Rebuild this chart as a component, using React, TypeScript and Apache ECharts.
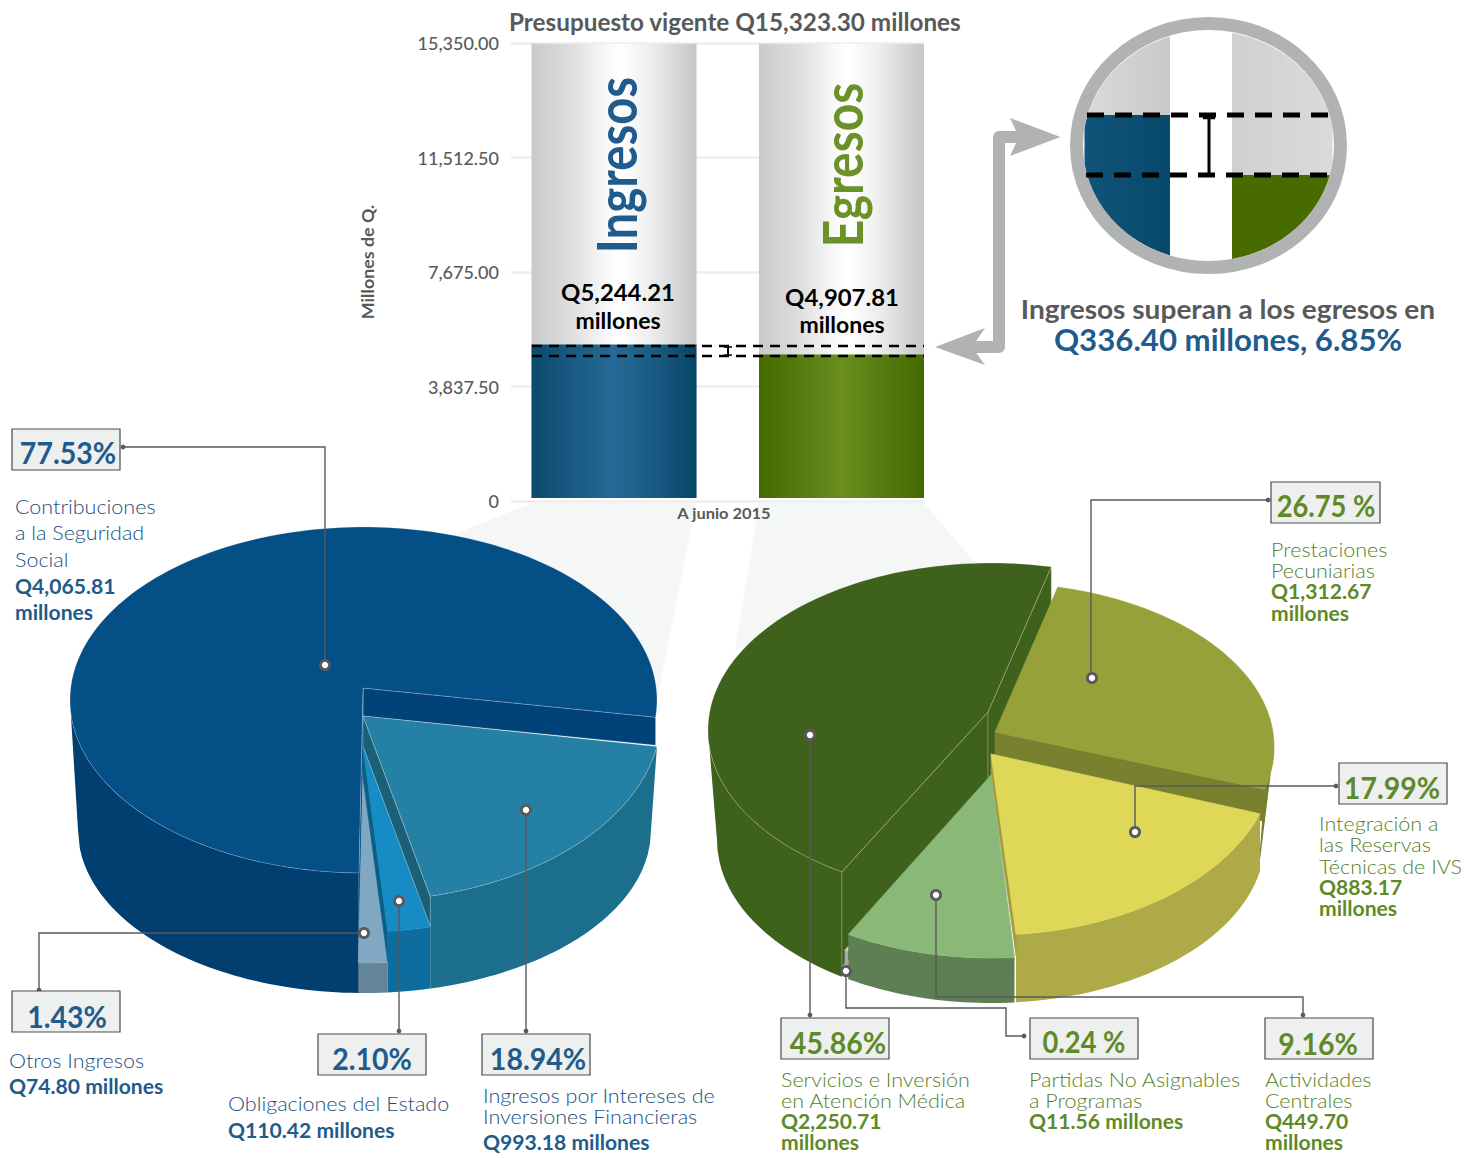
import React, { useEffect, useRef } from "react";
import * as echarts from "echarts";

const barCategories = ["Ingresos", "Egresos"];
const budgetValues = [15323.3, 15323.3];
const executedValues = [5244.21, 4907.81];
const incomeCategories = ["Ingresos por Intereses de Inversiones Financieras", "Obligaciones del Estado", "Otros Ingresos", "Contribuciones a la Seguridad Social"];
const incomeValues = [993.18, 110.42, 74.8, 4065.81];
const expenseCategories = ["Prestaciones Pecuniarias", "Integración a las Reservas Técnicas de IVS", "Actividades Centrales", "Partidas No Asignables a Programas", "Servicios e Inversión en Atención Médica"];
const expenseValues = [1312.67, 883.17, 449.7, 11.56, 2250.71];

const FONT = "Lato";
const BLUE = "#1f5b8c";
const BLUE_L = "#174f80";
const GREEN = "#5f8a28";
const GREEN_L = "#55801f";
const GREY = "#58595b";
const rad = (d: number) => (d * Math.PI) / 180;

type Strip = { at: "start" | "end"; depth: number; fill: string };
type Slice = {
  apex: number[]; c: number[]; r: number[]; b: number[]; nudge: number[];
  top: string; wall: string; strips?: Strip[]; line?: boolean;
};

const leftLayout: Record<string, Slice> = {
  [incomeCategories[0]]: { apex: [363, 716], c: [363, 714], r: [298.5, 187], b: [363, 830, 288, 163], nudge: [0, -1.2], top: "#2580a5", wall: "#1c6e8d", strips: [{ at: "end", depth: 30, fill: "#1a6078" }], line: true },
  [incomeCategories[1]]: { apex: [363, 747], c: [363, 732], r: [298.5, 200], b: [363, 830, 288, 163], nudge: [-1.2, -0.5], top: "#168bc4", wall: "#0d6d9e", strips: [{ at: "end", depth: 30, fill: "#0b5f87" }] },
  [incomeCategories[2]]: { apex: [363, 773], c: [363, 773], r: [298.5, 190], b: [363, 830, 288, 163], nudge: [-0.5, 0], top: "#81a8c2", wall: "#648499" },
  [incomeCategories[3]]: { apex: [363, 688], c: [363.5, 700], r: [293.5, 173], b: [363, 830, 285, 163], nudge: [0, -4.3], top: "#034f86", wall: "#003f6f", strips: [{ at: "end", depth: 28, fill: "#014378" }, { at: "start", depth: 90, fill: "#014378" }], line: true },
};
const rightLayout: Record<string, Slice> = {
  [expenseCategories[0]]: { apex: [995, 732], c: [995, 747], r: [279, 164], b: [991, 876, 267, 0], nudge: [0, -4.3], top: "#97a13a", wall: "#78802a", strips: [{ at: "end", depth: 32, fill: "#79812f" }] },
  [expenseCategories[1]]: { apex: [991, 754], c: [991, 754], r: [285, 181], b: [991, 840, 274, 163], nudge: [0, 0.9], top: "#ded757", wall: "#aeaa47", strips: [{ at: "end", depth: 21, fill: "#a19c40" }] },
  [expenseCategories[2]]: { apex: [991, 775], c: [991, 783], r: [285, 175], b: [991, 840, 274, 163], nudge: [1.2, 3], top: "#8ab878", wall: "#5d7f53" },
  [expenseCategories[3]]: { apex: [991, 800], c: [991, 800], r: [285, 175], b: [991, 829, 274, 163], nudge: [3, 3], top: "#c9d0c4", wall: "#a8a8a8" },
  [expenseCategories[4]]: { apex: [988, 712], c: [991, 730], r: [283, 167], b: [991, 840, 274, 163], nudge: [3.9, -0.7], top: "#3e611c", wall: "#3e611c", strips: [{ at: "start", depth: 95, fill: "#3e611c" }, { at: "end", depth: 70, fill: "#3e611c" }], line: true },
};

function arc(c: number[], r: number[], a0: number, a1: number) {
  const n = Math.max(2, Math.ceil(Math.abs(a1 - a0) / 1.5));
  const pts: number[][] = [];
  for (let i = 0; i <= n; i++) {
    const t = rad(a0 + ((a1 - a0) * i) / n);
    pts.push([c[0] + r[0] * Math.cos(t), c[1] + r[1] * Math.sin(t)]);
  }
  return pts;
}

function sliceShapes(s: Slice, a0: number, a1: number) {
  const out: any[] = [];
  const thin = "rgba(255,255,255,0.32)";
  const v0 = Math.max(a0, 0);
  const v1 = Math.min(a1, 180);
  if (v1 > v0) {
    const topPts = arc(s.c, s.r, v0, v1);
    const bottom = topPts.map(([x]) => {
      const xb = Math.max(s.b[0] - s.b[2], Math.min(s.b[0] + s.b[2], x));
      const u = (xb - s.b[0]) / s.b[2];
      return [xb, s.b[1] + s.b[3] * Math.sqrt(Math.max(0, 1 - u * u))];
    });
    out.push({ type: "polygon", shape: { points: topPts.concat(bottom.reverse()) }, style: { fill: s.wall } });
  }
  (s.strips || []).forEach((st) => {
    const ang = st.at === "start" ? a0 : a1;
    const p = arc(s.c, s.r, ang, ang)[0];
    out.push({
      type: "polygon",
      shape: { points: [s.apex, p, [p[0], p[1] + st.depth], [s.apex[0], s.apex[1] + st.depth]] },
      style: { fill: st.fill, stroke: s.line ? thin : st.fill, lineWidth: 0.7 },
    });
  });
  out.push({
    type: "polygon",
    shape: { points: [s.apex, ...arc(s.c, s.r, a0, a1)] },
    style: { fill: s.top, stroke: s.line ? thin : s.top, lineWidth: 0.7 },
  });
  return out;
}

function pieSeries(name: string, cats: string[], vals: number[], layout: Record<string, Slice>, start: number, drawOrder: number[]) {
  const total = vals.reduce((a, b) => a + b, 0);
  const angles: number[][] = [];
  let acc = start;
  vals.forEach((v) => {
    const span = (v / total) * 360;
    angles.push([acc, acc + span]);
    acc += span;
  });
  return {
    type: "custom",
    name,
    coordinateSystem: "none",
    silent: true,
    z: 5,
    data: drawOrder.map((i) => ({ name: cats[i], value: [i, vals[i]] })),
    renderItem: (_p: any, api: any) => {
      const i = api.value(0);
      const s = layout[cats[i]];
      return { type: "group", children: sliceShapes(s, angles[i][0] + s.nudge[0], angles[i][1] + s.nudge[1]) };
    },
  };
}

const txt = (text: string, x: number, y: number, size: number, fill: string, o: any = {}) => ({
  type: "text",
  x,
  y,
  scaleX: o.sx ?? 1,
  rotation: o.rot ?? 0,
  style: {
    text,
    fill,
    font: `${o.weight ?? 400} ${size}px ${FONT}`,
    align: o.align ?? "left",
    textAlign: o.align ?? "left",
    verticalAlign: "middle",
    textVerticalAlign: "middle",
  },
});

const line = (pts: number[][]) => ({ type: "polyline", shape: { points: pts }, style: { stroke: "#5a5a5c", lineWidth: 1.4, fill: "none" } });
const marker = (x: number, y: number) => ({ type: "circle", shape: { cx: x, cy: y, r: 4.6 }, style: { fill: "#fff", stroke: "#58585e", lineWidth: 2.8 } });
const dot = (x: number, y: number) => ({ type: "circle", shape: { cx: x, cy: y, r: 2.4 }, style: { fill: "#5a5a5c" } });
const pctBox = (t: string, x: number, y: number, w: number, h: number, tx: number, ty: number, color: string, sx: number) => [
  { type: "rect", shape: { x, y, width: w, height: h }, style: { fill: "#eef0ef", stroke: "#4a4a4a", lineWidth: 1.2 } },
  txt(t, tx, ty - 1, 31, color, { weight: 700, align: "center", sx }),
];
const block = (x: number, ys: number[], lines: string[], boldFrom: number, light: string, bold: string) =>
  lines.map((l, i) =>
    i >= boldFrom
      ? txt(l, x, ys[i] - 1, 20.5, bold, { weight: 700, sx: 1.03 })
      : txt(l, x, ys[i] - 1, 20.5, light, { weight: 300, sx: 1.05 })
  );

function ellipseRegion(cx: number, cy: number, rx: number, ry: number, x0: number, x1: number, y0: number, y1: number) {
  const up: number[][] = [];
  const dn: number[][] = [];
  for (let x = x0; x <= x1 + 0.01; x += 1.5) {
    const u = (x - cx) / rx;
    if (Math.abs(u) >= 1) continue;
    const h = ry * Math.sqrt(1 - u * u);
    const a = Math.max(y0, cy - h);
    const b = Math.min(y1, cy + h);
    if (a < b) {
      up.push([x, a]);
      dn.push([x, b]);
    }
  }
  return up.concat(dn.reverse());
}
const hGrad = (stops: [number, string][]) =>
  new echarts.graphic.LinearGradient(0, 0, 1, 0, stops.map(([offset, color]) => ({ offset, color })));
const even = (cols: string[]) => cols.map((c, i) => [i / (cols.length - 1), c] as [number, string]);

const Y0 = 501;
const yPx = (v: number) => Y0 - (v * 458) / 15350;

function buildOption() {
  const yA = yPx(executedValues[0]) + 1.5;
  const yB = yPx(executedValues[1]) + 1.5;
  const dash = (y: number) => ({ type: "line", shape: { x1: 532, y1: y, x2: 924, y2: y }, style: { stroke: "#000", lineWidth: 2.4, lineDash: [10, 7] } });
  const cx = 1208.5, cy = 146, rx = 125.5, ry = 115;
  const elements: any[] = [
    txt("Millones de Q.", 368, 262, 17.5, GREY, { weight: 700, align: "center", rot: Math.PI / 2, sx: 1.02 }),
    txt("A junio 2015", 724, 513, 15.5, GREY, { weight: 700, align: "center", sx: 1.06 }),
    txt(barCategories[0], 615, 165, 56, BLUE, { weight: 700, align: "center", rot: Math.PI / 2, sx: 0.845 }),
    txt(barCategories[1], 842, 165, 56, "#6a9226", { weight: 700, align: "center", rot: Math.PI / 2, sx: 0.855 }),
    txt("Q5,244.21", 618, 292, 23, "#000", { weight: 700, align: "center", sx: 1.04 }),
    txt("millones", 618, 320, 23, "#000", { weight: 700, align: "center" }),
    txt("Q4,907.81", 842, 297, 23, "#000", { weight: 700, align: "center", sx: 1.04 }),
    txt("millones", 842, 324, 23, "#000", { weight: 700, align: "center" }),
    dash(yA),
    dash(yB),
    { type: "polyline", shape: { points: [[724, yA + 1], [732, yA + 1]] }, style: { stroke: "#000", lineWidth: 1.5, fill: "none" } },
    { type: "polyline", shape: { points: [[724, yB - 1], [732, yB - 1]] }, style: { stroke: "#000", lineWidth: 1.5, fill: "none" } },
    { type: "polyline", shape: { points: [[728, yA + 1], [728, yB - 1]] }, style: { stroke: "#000", lineWidth: 2, fill: "none" } },

    // arrow
    { type: "polyline", shape: { points: [[1019, 137], [999, 137], [999, 347], [972, 347]] }, style: { stroke: "#b1b2b4", lineWidth: 12, fill: "none", lineJoin: "round" } },
    { type: "polygon", shape: { points: [[1060.5, 137], [1010, 118], [1019, 137], [1010, 156]] }, style: { fill: "#b1b2b4" } },
    { type: "polygon", shape: { points: [[935, 347], [985, 328], [972, 347], [985, 365]] }, style: { fill: "#b1b2b4" } },

    // inset
    { type: "polygon", shape: { points: ellipseRegion(cx, cy, rx, ry, 1083, 1171, 0, 115) }, style: { fill: hGrad(even(["#d8d9db", "#c8c9cb"])) } },
    { type: "polygon", shape: { points: ellipseRegion(cx, cy, rx, ry, 1083, 1171, 115, 300) }, style: { fill: hGrad(even(["#11547a", "#07496a"])) } },
    { type: "polygon", shape: { points: ellipseRegion(cx, cy, rx, ry, 1232, 1335, 0, 175) }, style: { fill: hGrad(even(["#cfd0d2", "#d9dadc"])) } },
    { type: "polygon", shape: { points: ellipseRegion(cx, cy, rx, ry, 1232, 1335, 175, 300) }, style: { fill: "#486b00" } },
    { type: "ellipse", shape: { cx, cy: 145.5, rx: 132, ry: 122 }, style: { fill: "none", stroke: "#b1b2b4", lineWidth: 13 } },
    { type: "line", shape: { x1: 1087, y1: 115, x2: 1331, y2: 115 }, style: { stroke: "#000", lineWidth: 5, lineDash: [17, 11] } },
    { type: "line", shape: { x1: 1086, y1: 175, x2: 1331, y2: 175 }, style: { stroke: "#000", lineWidth: 5, lineDash: [17, 11] } },
    { type: "line", shape: { x1: 1209, y1: 118, x2: 1209, y2: 175 }, style: { stroke: "#000", lineWidth: 3 } },
    { type: "line", shape: { x1: 1203, y1: 118, x2: 1215, y2: 118 }, style: { stroke: "#000", lineWidth: 2.5 } },
    txt("Ingresos superan a los egresos en", 1228, 309, 26, GREY, { weight: 700, align: "center", sx: 1.08 }),
    txt("Q336.40 millones, 6.85%", 1228, 340, 30, BLUE, { weight: 700, align: "center", sx: 1.04 }),

    // left callouts
    line([[123, 447], [325, 447], [325, 665]]), dot(123, 447), marker(325, 665),
    ...pctBox("77.53%", 12, 429, 108, 41, 68, 453, BLUE, 0.92),
    ...block(15, [507, 533, 560, 587, 613], ["Contribuciones", "a la Seguridad", "Social", "Q4,065.81", "millones"], 3, BLUE_L, BLUE),
    line([[364, 933], [39, 933], [39, 990]]), dot(39, 990), marker(364, 933),
    ...pctBox("1.43%", 12, 991, 108, 41, 67, 1017, BLUE, 0.92),
    ...block(9, [1061, 1087], ["Otros Ingresos", "Q74.80 millones"], 1, BLUE_L, BLUE),
    line([[399, 901], [399, 1031]]), dot(399, 1031), marker(399, 901),
    ...pctBox("2.10%", 318, 1034, 108, 41, 372, 1059, BLUE, 0.92),
    ...block(228, [1104, 1131], ["Obligaciones del Estado", "Q110.42 millones"], 1, BLUE_L, BLUE),
    line([[526, 810], [526, 1031]]), dot(526, 1031), marker(526, 810),
    ...pctBox("18.94%", 482, 1034, 108, 41, 538, 1059, BLUE, 0.92),
    ...block(483, [1096, 1117, 1143], ["Ingresos por Intereses de", "Inversiones Financieras", "Q993.18 millones"], 2, BLUE_L, BLUE),

    // right callouts
    line([[1268, 500], [1091, 500], [1091, 678]]), dot(1268, 500), marker(1092, 678),
    ...pctBox("26.75 %", 1271, 482, 109, 41, 1326, 506, GREEN, 0.88),
    ...block(1271, [550, 571, 592, 614], ["Prestaciones", "Pecuniarias", "Q1,312.67", "millones"], 2, GREEN_L, GREEN),
    line([[1336, 786], [1135, 786], [1135, 832]]), dot(1336, 786), marker(1135, 832),
    ...pctBox("17.99%", 1339, 763, 108, 41, 1392, 788, GREEN, 0.92),
    ...block(1319, [824, 845, 867, 888, 909], ["Integración a", "las Reservas", "Técnicas de IVS", "Q883.17", "millones"], 3, GREEN_L, GREEN),
    line([[810, 735], [810, 1015]]), dot(810, 1015), marker(810, 735),
    ...pctBox("45.86%", 781, 1018, 108, 41, 838, 1043, GREEN, 0.92),
    ...block(781, [1080, 1101, 1122, 1143], ["Servicios e Inversión", "en Atención Médica", "Q2,250.71", "millones"], 2, GREEN_L, GREEN),
    line([[846, 971], [846, 1008], [1006, 1008], [1006, 1036], [1024, 1036]]), dot(1024, 1036), marker(846, 971),
    ...pctBox("0.24 %", 1030, 1018, 108, 41, 1084, 1042, GREEN, 0.88),
    ...block(1029, [1080, 1101, 1122], ["Partidas No Asignables", "a Programas", "Q11.56 millones"], 2, GREEN_L, GREEN),
    line([[936, 895], [936, 997], [1303, 997], [1303, 1015]]), dot(1303, 1015), marker(936, 895),
    ...pctBox("9.16%", 1265, 1018, 108, 41, 1318, 1044, GREEN, 0.92),
    ...block(1265, [1080, 1101, 1122, 1143], ["Actividades", "Centrales", "Q449.70", "millones"], 2, GREEN_L, GREEN),
  ];

  const funnelFill = "#f5f7f7";
  const funnelData = [
    [[532, 503], [696, 503], [657, 700], [440, 540]],
    [[759, 503], [924, 503], [990, 580], [735, 650]],
  ];

  return {
    animation: false,
    backgroundColor: "#fff",
    textStyle: { fontFamily: FONT },
    title: {
      text: "Presupuesto vigente Q15,323.30 millones",
      left: 509,
      top: 9,
      padding: 0,
      textStyle: { fontFamily: FONT, fontSize: 24.3, fontWeight: 700, color: GREY },
    },
    grid: [
      { left: 511, top: 43, width: 413, height: 458 },
      { left: 500.25, top: 43, width: 455, height: 455 },
    ],
    xAxis: [
      { gridIndex: 0, type: "category", data: barCategories, show: false },
      { gridIndex: 1, type: "category", data: barCategories, show: false },
    ],
    yAxis: [
      {
        gridIndex: 0, type: "value", min: 0, max: 15350, interval: 3837.5,
        axisLine: { show: false }, axisTick: { show: false },
        axisLabel: {
          margin: 12, color: GREY, fontSize: 18, fontFamily: FONT, fontWeight: 500,
          formatter: (v: number) => (v === 0 ? "0" : v.toLocaleString("en-US", { minimumFractionDigits: 2, maximumFractionDigits: 2 })),
        },
        splitLine: { show: true, lineStyle: { color: "#eeeeee", width: 2.5 } },
      },
      { gridIndex: 1, type: "value", min: 100.5, max: 15350, show: false, splitLine: { show: false } },
    ],
    graphic: { z: 100, elements: elements.map((e) => ({ ...e, z: 100 })) },
    series: [
      {
        type: "custom", name: "Guías", coordinateSystem: "none", silent: true, z: 1,
        data: funnelData.map((_, i) => [i]),
        renderItem: (_p: any, api: any) => ({
          type: "polygon",
          shape: { points: funnelData[api.value(0)] },
          style: { fill: funnelFill },
        }),
      },
      {
        type: "bar", name: "Presupuesto vigente", xAxisIndex: 1, yAxisIndex: 1, barWidth: 165, barGap: "-100%", silent: true, z: 2,
        data: budgetValues,
        itemStyle: { color: hGrad([[0, "#c8c9cb"], [0.25, "#dedfe0"], [0.45, "#f8f8f8"], [0.55, "#ffffff"], [0.72, "#eeeeef"], [1, "#c5c6c8"]]) },
      },
      {
        type: "bar", name: "Ejecutado", xAxisIndex: 1, yAxisIndex: 1, barWidth: 165, barGap: "-100%", silent: true, z: 3,
        data: executedValues.map((v, i) => ({
          value: v,
          itemStyle: {
            color: i === 0
              ? hGrad(even(["#0a4a6e", "#1a5a82", "#256a96", "#1a5a82", "#054667"]))
              : hGrad(even(["#456a00", "#557a10", "#6a8f1f", "#557a10", "#456a00"])),
          },
        })),
      },
      pieSeries("Ingresos", incomeCategories, incomeValues, leftLayout, 10, [3, 2, 1, 0]),
      pieSeries("Egresos", expenseCategories, expenseValues, rightLayout, -77, [4, 0, 1, 3, 2]),
    ],
  };
}

export default function App() {
  const ref = useRef<HTMLDivElement>(null);
  useEffect(() => {
    const chart = echarts.init(ref.current!, undefined, { renderer: "svg" });
    chart.setOption(buildOption() as any);
    return () => chart.dispose();
  }, []);
  return <div ref={ref} style={{ position: "absolute", left: 0, top: 0, width: 1461, height: 1153 }} />;
}
